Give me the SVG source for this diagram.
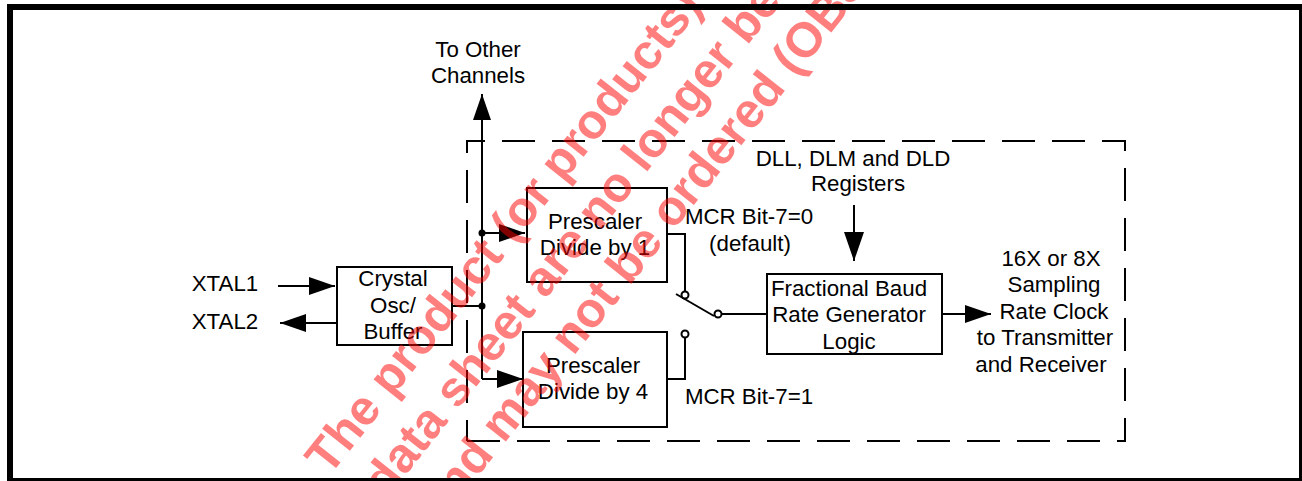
<svg xmlns="http://www.w3.org/2000/svg" width="1302" height="481" viewBox="0 0 1302 481">
<style>
.l{font-family:"Liberation Sans",Arial,sans-serif;font-size:22.3px;fill:#000;text-anchor:middle}
.b{fill:#fff;stroke:#000;stroke-width:2}
.c{fill:none;stroke:#000;stroke-width:2}
.d{fill:none;stroke:#000;stroke-width:2;stroke-dasharray:33 17}
.w{font-family:"Liberation Sans",Arial,sans-serif;font-size:49px;font-weight:bold;fill:#ff0000;fill-opacity:.5}
.o{fill:#fff;stroke:#000;stroke-width:2}
</style>
<defs>
<marker id="a" markerUnits="userSpaceOnUse" markerWidth="26" markerHeight="18" refX="26" refY="9" orient="auto"><path d="M0 0L26 9L0 18Z" fill="#000"/></marker>
<marker id="e" markerUnits="userSpaceOnUse" markerWidth="29" markerHeight="20" refX="29" refY="10" orient="auto"><path d="M0 0L29 10L0 20Z" fill="#000"/></marker>
</defs>
<rect width="1302" height="481" fill="#fff"/>
<g id="boundary">
<path class="d" d="M502 141H1125V441H1117"/>
<path class="d" d="M1100 441H467"/>
<path class="c" d="M467 441V420"/>
<path class="d" d="M467 403V141H485"/>
</g>
<g id="connectors">
<path class="c" d="M278 286H335" marker-end="url(#a)"/>
<path class="c" d="M337 323H280" marker-end="url(#a)"/>
<path class="c" d="M452 306H482"/>
<path class="c" d="M482 379V94" marker-end="url(#a)"/>
<path class="c" d="M482 233H525" marker-end="url(#a)"/>
<path class="c" d="M482 379H523" marker-end="url(#a)"/>
<path class="c" d="M667 234H685V291"/>
<path class="c" d="M667 379H685V338"/>
<path class="c" d="M676 294L714 316"/>
<path class="c" d="M722 314H767"/>
<path class="c" d="M854 205V261" marker-end="url(#e)"/>
<path class="c" d="M942 314H991" marker-end="url(#a)"/>
<circle cx="482" cy="233" r="3.5"/><circle cx="482" cy="306" r="3.5"/>
<circle class="o" cx="685" cy="295" r="3.5"/><circle class="o" cx="718" cy="314" r="3.5"/><circle class="o" cx="685" cy="334" r="3.5"/>
</g>
<g id="crystal"><rect class="b" x="337" y="267" width="115" height="78"/><text class="l" x="393" y="286">Crystal</text><text class="l" x="393" y="313">Osc/</text><text class="l" x="393" y="339">Buffer</text></g>
<g id="pre1"><rect class="b" x="527" y="188" width="140" height="94"/><text class="l" x="595" y="229">Prescaler</text><text class="l" x="595" y="255">Divide by 1</text></g>
<g id="pre4"><rect class="b" x="523" y="332" width="144" height="95"/><text class="l" x="593" y="373">Prescaler</text><text class="l" x="593" y="399">Divide by 4</text></g>
<g id="frac"><rect class="b" x="767" y="274" width="175" height="80"/><text class="l" x="849" y="296">Fractional Baud</text><text class="l" x="849" y="322">Rate Generator</text><text class="l" x="849" y="349">Logic</text></g>
<g id="labels">
<text class="l" x="225" y="291">XTAL1</text><text class="l" x="225" y="329">XTAL2</text>
<text class="l" x="478" y="57">To Other</text><text class="l" x="478" y="83">Channels</text>
<text class="l" x="853" y="166">DLL, DLM and DLD</text><text class="l" x="858" y="191">Registers</text>
<text class="l" x="749" y="224">MCR Bit-7=0</text><text class="l" x="750" y="251">(default)</text>
<text class="l" x="749" y="404">MCR Bit-7=1</text>
<text class="l" x="1051" y="266">16X or 8X</text><text class="l" x="1054" y="292">Sampling</text><text class="l" x="1054" y="319">Rate Clock</text><text class="l" x="1045" y="345">to Transmitter</text><text class="l" x="1041" y="372">and Receiver</text>
</g>
<g id="watermark">
<text class="w" transform="translate(329 477) rotate(-51.5)">The product (or products) d</text>
<text class="w" transform="translate(386 500) rotate(-51.5)">data sheet are no longer be</text>
<text class="w" transform="translate(441 523) rotate(-51.5)">and may not be ordered (OBS</text>
</g>
<rect id="frame" x="10" y="7" width="1292" height="474" fill="none" stroke="#000" stroke-width="6"/>
</svg>
